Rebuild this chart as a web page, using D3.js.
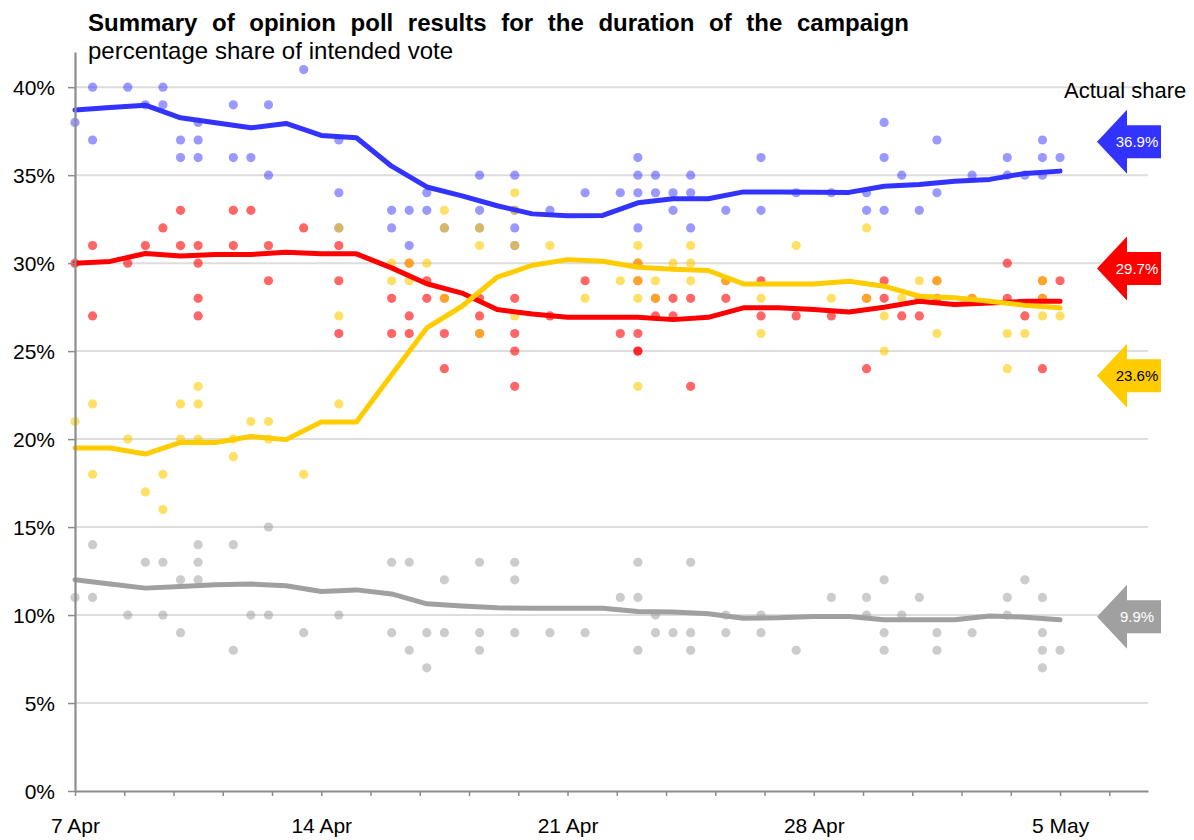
<!DOCTYPE html>
<html><head><meta charset="utf-8">
<script src="https://cdn.jsdelivr.net/npm/d3@7"></script>
<style>
body{margin:0;background:#fff}
svg{display:block;font-family:"Liberation Sans",Arial,Helvetica,sans-serif}
</style>
</head><body>
<svg id="chart" width="1194" height="840"></svg>
<script>
// ---------- DATA ----------
const titleText = "Summary of opinion poll results for the duration of the campaign";
const subtitleText = "percentage share of intended vote";
const actualLabel = "Actual share";
const xTickLabels = ["7 Apr", "14 Apr", "21 Apr", "28 Apr", "5 May"];
const yTickValues = [0, 5, 10, 15, 20, 25, 30, 35, 40];

// daily rolling averages, 7 Apr .. 5 May
const conAvg = [38.7,38.85,38.98,38.26,37.98,37.69,37.94,37.26,37.13,35.51,34.33,33.82,33.26,32.8,32.69,32.71,33.43,33.66,33.66,34.05,34.05,34.03,34.02,34.37,34.47,34.66,34.76,35.1,35.23];
const labAvg = [30.0,30.1,30.55,30.4,30.49,30.49,30.62,30.53,30.53,29.73,28.83,28.3,27.36,27.11,26.92,26.92,26.92,26.79,26.92,27.46,27.46,27.36,27.22,27.49,27.83,27.65,27.74,27.83,27.83];
const ldAvg  = [19.49,19.49,19.15,19.81,19.81,20.15,19.97,20.97,20.97,23.66,26.32,27.55,29.2,29.88,30.2,30.11,29.77,29.65,29.58,28.82,28.82,28.82,28.97,28.69,28.12,28.03,27.83,27.6,27.46];
const othAvg = [12.0,11.77,11.53,11.62,11.72,11.76,11.66,11.34,11.43,11.2,10.64,10.52,10.41,10.39,10.39,10.39,10.2,10.18,10.07,9.82,9.84,9.92,9.92,9.73,9.73,9.73,9.95,9.88,9.73];

// individual polls: [days after 7 Apr, share %]
const conPolls = [[0,38],[0.5,40],[0.5,37],[1.5,40],[2,39],[2.5,40],[2.5,39],[3,37],[3,36],[3.5,38],[3.5,37],[3.5,36],[4.5,39],[4.5,36],[5,36],[5.5,39],[5.5,35],[6.5,41],[7.5,37],[7.5,34],[7.5,32],[9,33],[9,32],[9.5,33],[9.5,31],[10,34],[10,33],[10.5,32],[11.5,35],[11.5,33],[11.5,32],[12.5,35],[12.5,33],[12.5,32],[12.5,31],[13.5,33],[14.5,34],[15.5,34],[16,36],[16,35],[16,34],[16,32],[16.5,35],[16.5,34],[17,34],[17,33],[17.5,35],[17.5,34],[17.5,32],[18.5,33],[19.5,36],[19.5,33],[20.5,34],[21.5,34],[22.5,34],[22.5,33],[23,38],[23,36],[23,33],[23.5,35],[24,33],[24.5,37],[24.5,34],[25.5,35],[26.5,36],[26.5,35],[27,35],[27.5,37],[27.5,36],[27.5,35],[28,36]];
const labPolls = [[0,30],[0.5,31],[0.5,27],[1.5,30],[2,31],[2.5,32],[3,33],[3,31],[3.5,31],[3.5,30],[3.5,28],[3.5,27],[4.5,33],[4.5,31],[5,33],[5.5,31],[5.5,29],[6.5,32],[7.5,31],[7.5,29],[7.5,26],[9,28],[9,26],[9.5,30],[9.5,27],[9.5,26],[10,29],[10,28],[10.5,28],[10.5,26],[10.5,24],[11.5,28],[11.5,27],[11.5,26],[12.5,28],[12.5,26],[12.5,25],[12.5,23],[13.5,27],[14.5,29],[15.5,26],[16,30],[16,29],[16,26],[16,25],[16,25],[16.5,28],[16.5,27],[17,28],[17,27],[17.5,28],[17.5,23],[18.5,29],[18.5,28],[19.5,29],[19.5,27],[20.5,27],[21.5,27],[22.5,28],[22.5,24],[23,29],[23,28],[23.5,27],[24,28],[24,27],[24.5,29],[24.5,28],[25.5,28],[26.5,30],[26.5,28],[27,27],[27.5,29],[27.5,28],[27.5,24],[28,29]];
const ldPolls = [[0,21],[0.5,22],[0.5,18],[1.5,20],[2,17],[2.5,18],[2.5,16],[3,22],[3,20],[3.5,23],[3.5,22],[3.5,20],[4.5,20],[4.5,19],[5,21],[5.5,21],[5.5,20],[6.5,18],[7.5,32],[7.5,27],[7.5,22],[9,30],[9,29],[9.5,30],[9.5,29],[10,30],[10.5,33],[10.5,32],[10.5,28],[11.5,32],[11.5,31],[11.5,26],[12.5,34],[12.5,33],[12.5,31],[12.5,27],[13.5,31],[14.5,28],[15.5,29],[16,31],[16,30],[16,29],[16,28],[16,23],[16.5,29],[16.5,28],[17,30],[17.5,31],[17.5,30],[17.5,29],[18.5,29],[19.5,28],[19.5,26],[20.5,31],[21.5,28],[22.5,32],[22.5,28],[23,27],[23,25],[23.5,28],[24,29],[24,28],[24.5,29],[24.5,26],[25.5,28],[26.5,26],[26.5,24],[27,26],[27.5,29],[27.5,28],[27.5,27],[28,27]];
const othPolls = [[0,11],[0.5,14],[0.5,11],[1.5,10],[2,13],[2.5,13],[2.5,10],[3,12],[3,9],[3.5,14],[3.5,13],[3.5,12],[4.5,14],[4.5,8],[5,10],[5.5,15],[5.5,10],[6.5,9],[7.5,10],[9,13],[9,9],[9.5,13],[9.5,8],[10,9],[10,7],[10.5,12],[10.5,9],[11.5,13],[11.5,9],[11.5,8],[12.5,13],[12.5,12],[12.5,9],[13.5,9],[14.5,9],[15.5,11],[16,13],[16,11],[16,8],[16.5,10],[16.5,9],[17,9],[17.5,13],[17.5,9],[17.5,8],[18.5,10],[18.5,9],[19.5,10],[19.5,9],[20.5,8],[21.5,11],[22.5,11],[22.5,10],[23,12],[23,9],[23,8],[23.5,10],[24,11],[24.5,9],[24.5,8],[25.5,9],[26.5,11],[26.5,10],[27,12],[27.5,11],[27.5,9],[27.5,8],[27.5,7],[28,8]];

// actual result shares
const actualShares = [36.9, 29.7, 23.6, 9.9];

// ---------- SETUP ----------
const svg = d3.select("#chart");
const start = new Date(2010, 3, 7);
const dayToDate = d => new Date(start.getTime() + d * 86400000);
const x = d3.scaleTime().domain([start, dayToDate(30.5)]).range([75, 1148]);
const y = d3.scaleLinear().domain([0, 42]).range([791, 52]);

const parties = [
  {name:"con", avg:conAvg, polls:conPolls, line:"#3333ff", dot:"#3333ff", dotOp:0.5, txt:"#fff"},
  {name:"lab", avg:labAvg, polls:labPolls, line:"#ff0000", dot:"#ff0000", dotOp:0.6, txt:"#fff"},
  {name:"ld",  avg:ldAvg,  polls:ldPolls,  line:"#ffcc00", dot:"#ffcc00", dotOp:0.6, txt:"#000"},
  {name:"oth", avg:othAvg, polls:othPolls, line:"#a0a0a0", dot:"#999999", dotOp:0.5, txt:"#fff"}
];

// gridlines
svg.append("g").selectAll("line").data(yTickValues.filter(v => v > 0)).join("line")
  .attr("x1", x.range()[0]).attr("x2", x.range()[1])
  .attr("y1", d => y(d)).attr("y2", d => y(d))
  .attr("stroke", "#dddddd").attr("stroke-width", 2);

// dots
parties.forEach(p => {
  svg.append("g").selectAll("circle").data(p.polls).join("circle")
    .attr("cx", d => x(dayToDate(d[0])))
    .attr("cy", d => y(d[1]))
    .attr("r", 4.6)
    .attr("fill", p.dot).attr("fill-opacity", p.dotOp);
});

// lines
const line = d3.line().x((d, i) => x(dayToDate(i))).y(d => y(d));
parties.forEach(p => {
  svg.append("path").datum(p.avg)
    .attr("d", line)
    .attr("fill", "none").attr("stroke", p.line)
    .attr("stroke-width", 5).attr("stroke-linejoin", "round").attr("stroke-linecap", "round");
});

// y axis
const yAxis = svg.append("g").attr("transform", `translate(${x.range()[0]},0)`)
  .call(d3.axisLeft(y).tickValues(yTickValues).tickSize(7).tickSizeOuter(0).tickPadding(13).tickFormat(d => d + "%"));
yAxis.select(".domain").attr("stroke", "#8c8c8c").attr("stroke-width", 2.2);
yAxis.selectAll(".tick line").attr("stroke", "#8c8c8c").attr("stroke-width", 1.5);
yAxis.selectAll(".tick text").attr("font-size", 21).attr("font-family", "Liberation Sans, Arial, sans-serif").attr("fill", "#000").attr("dy", "0.36em");

// x axis
const xTickDays = d3.range(0, 30.5, 1.4);
const xAxis = svg.append("g").attr("transform", `translate(0,${y(0)})`)
  .call(d3.axisBottom(x).tickValues(xTickDays.map(dayToDate)).tickSize(5).tickSizeOuter(0)
    .tickFormat((d, i) => i % 5 === 0 ? (xTickLabels[i / 5] || "") : ""));
xAxis.select(".domain").attr("stroke", "#8c8c8c").attr("stroke-width", 2.2);
xAxis.selectAll(".tick line").attr("stroke", "#8c8c8c").attr("stroke-width", 1.5);
xAxis.selectAll(".tick text").attr("font-size", 21).attr("font-family", "Liberation Sans, Arial, sans-serif").attr("fill", "#000")
  .attr("y", 42).attr("dy", 0);

// title & subtitle
function fitWords(sel, target) {
  const n = sel.text().split(" ").length - 1;
  const w = sel.node().getComputedTextLength();
  if (n > 0) sel.style("word-spacing", ((target - w) / n) + "px");
}
const title = svg.append("text").attr("x", 88).attr("y", 31)
  .attr("font-size", 24).attr("font-weight", "bold").attr("fill", "#000").text(titleText);
fitWords(title, 821);
const sub = svg.append("text").attr("x", 88).attr("y", 59)
  .attr("font-size", 24).attr("fill", "#000").text(subtitleText);
fitWords(sub, 365);

svg.append("text").attr("x", 1064).attr("y", 98).attr("font-size", 22).attr("fill", "#000").text(actualLabel);

// actual share arrows
const tipX = 1097, headX = 1127, endX = 1161, headH = 32, bodyH = 16.5;
parties.forEach((p, i) => {
  const yc = y(actualShares[i]);
  const pts = [[tipX, yc], [headX, yc - headH], [headX, yc - bodyH], [endX, yc - bodyH],
               [endX, yc + bodyH], [headX, yc + bodyH], [headX, yc + headH]];
  svg.append("polygon").attr("points", pts.map(q => q.join(",")).join(" ")).attr("fill", p.line);
  svg.append("text").attr("x", 1137).attr("y", yc).attr("dy", "0.36em")
    .attr("text-anchor", "middle").attr("font-size", 15).attr("fill", p.txt)
    .text(d3.format(".1f")(actualShares[i]) + "%");
});
</script>
</body></html>
